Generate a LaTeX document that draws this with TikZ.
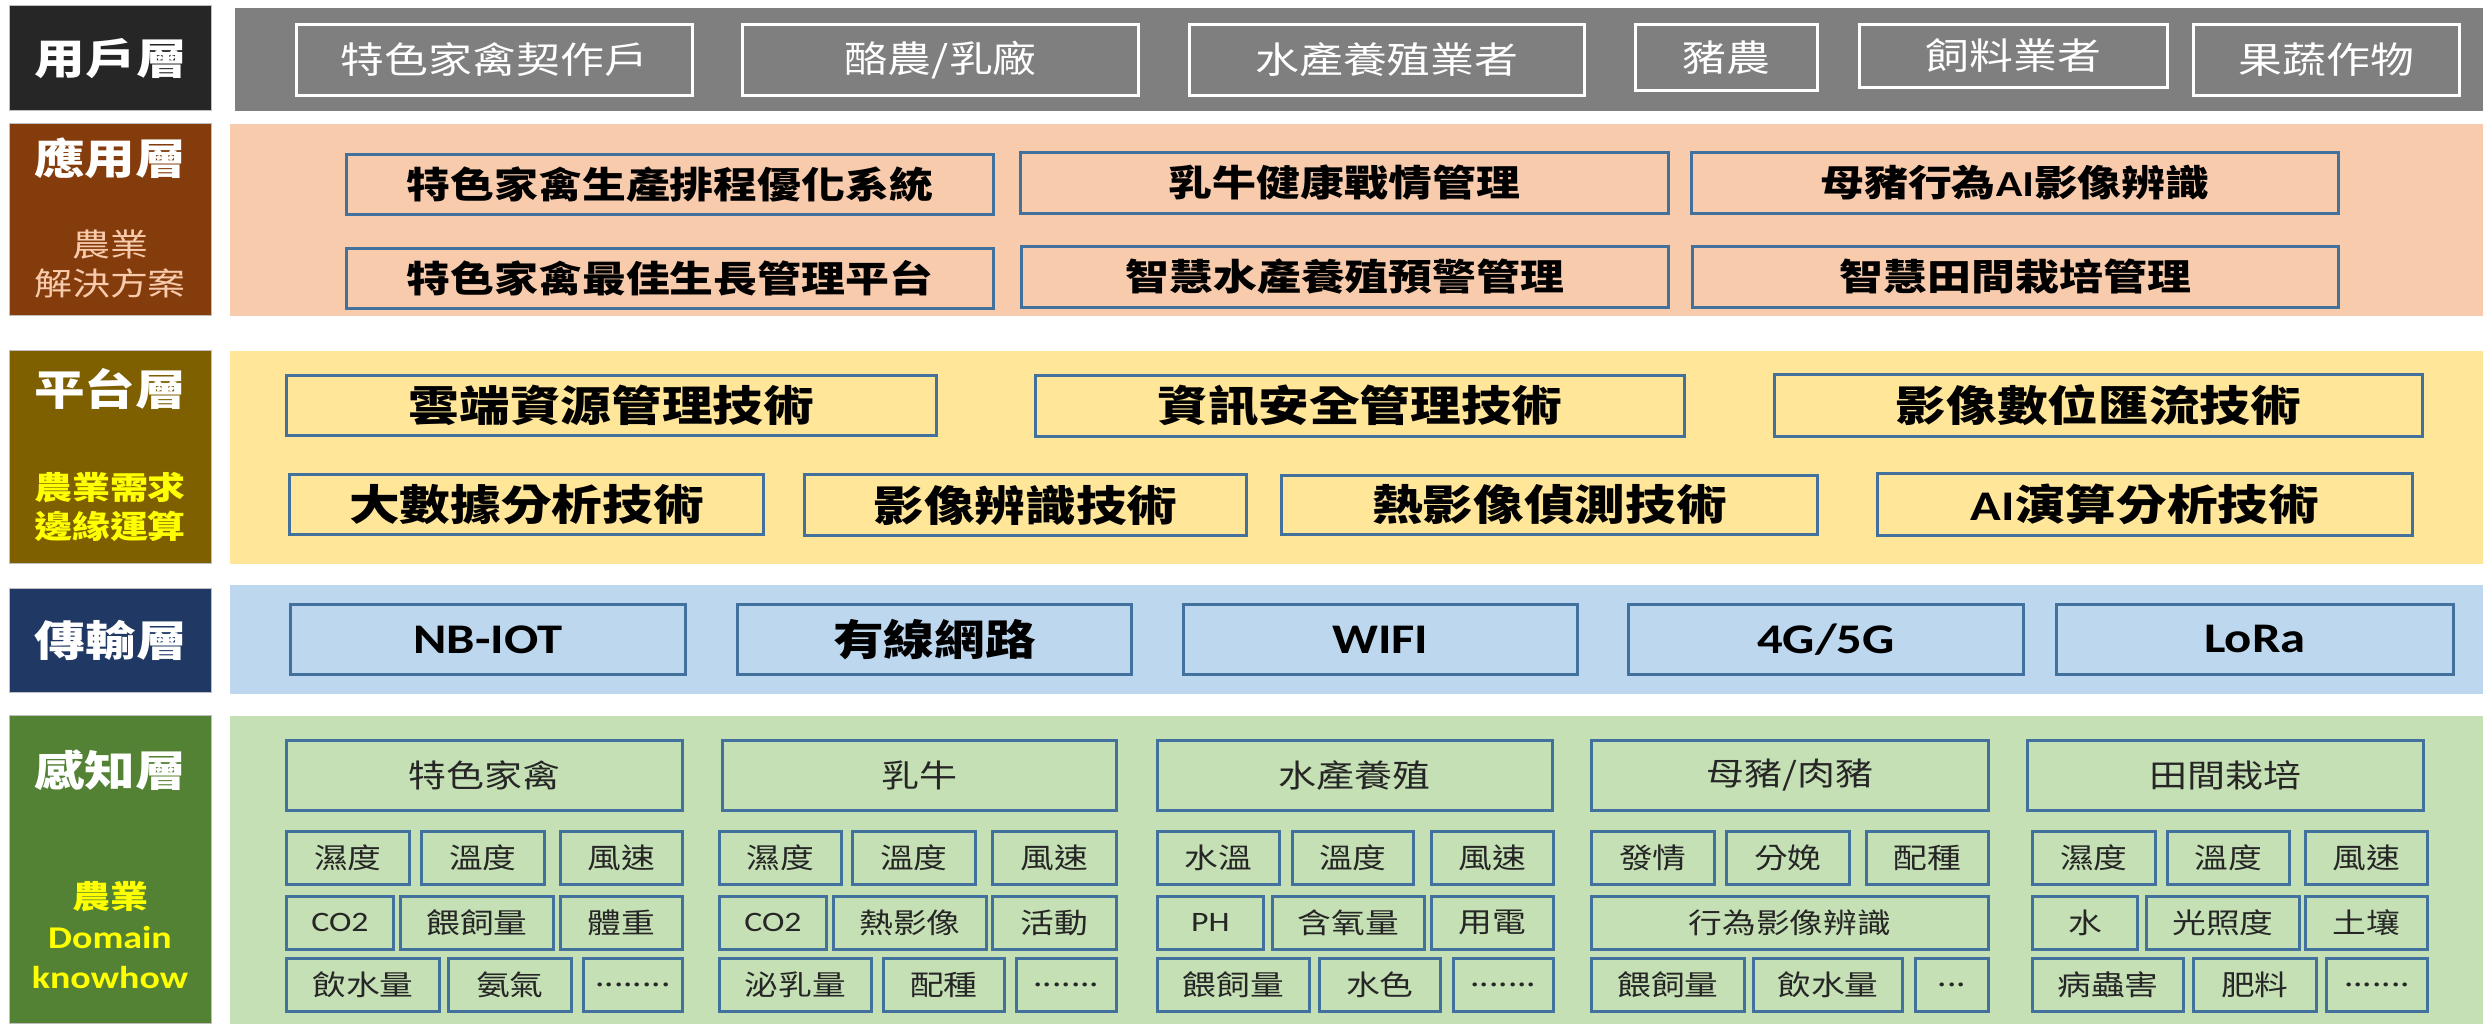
\documentclass[tikz,border=0pt]{standalone}
\usepackage{fontspec}
\setmainfont{Noto Sans CJK TC}[FakeStretch=1.2]
\newfontfamily\latin{Carlito}[FakeStretch=1.2]
\definecolor{userdark}{HTML}{262626}
\definecolor{usergray}{HTML}{7F7F7F}
\definecolor{appbrown}{HTML}{843C0C}
\definecolor{apppeach}{HTML}{F8CBAD}
\definecolor{platolive}{HTML}{7F6000}
\definecolor{platyellow}{HTML}{FFE699}
\definecolor{netnavy}{HTML}{203864}
\definecolor{netblue}{HTML}{BDD7EE}
\definecolor{sensegreen}{HTML}{548235}
\definecolor{senselight}{HTML}{C5E0B4}
\definecolor{boxblue}{HTML}{41719C}
\definecolor{subyellow}{HTML}{FFFF00}
\tikzset{
  cellsize/.style 2 args={minimum width=#1*0.01cm, minimum height=#2*0.01cm},
  labelbox/.style={draw=black!25, line width=0.4pt, anchor=north west, inner sep=0pt},
  labeltext/.style={text=white, font=\fontsize{12}{14}\selectfont\bfseries},
  subtext/.style={align=center, font=\fontsize{9}{11.3}\selectfont\bfseries},
  band/.style={anchor=north west, inner sep=0pt},
  userbox/.style={draw=white, line width=0.8pt, anchor=north west, inner sep=0pt, text=white, font=\fontsize{10.4}{12}\selectfont},
  appbox/.style={draw=boxblue, line width=0.8pt, anchor=north west, inner sep=0pt, font=\fontsize{10.4}{12}\selectfont\bfseries},
  techbox/.style={appbox, font=\fontsize{12}{14}\selectfont\bfseries},
  netbox/.style={techbox, fill=netblue},
  sensorhead/.style={appbox, text=black!85, font=\fontsize{9}{11}\selectfont},
  sensorbox/.style={appbox, text=black!85, font=\fontsize{8}{10}\selectfont}
}
\begin{document}
\begin{tikzpicture}[x=0.01cm, y=-0.01cm]
    \useasboundingbox (0,0) rectangle (2484,1023);

    % User layer
    \node[labelbox, fill=userdark, cellsize={202}{105}] (ulabel) at (9,5) {};
    \node[labeltext] (utitle) at (ulabel.center) {用戶層};
    \node[band, fill=usergray, cellsize={2248}{103}] (uband) at (234,7) {};
    \node[userbox, cellsize={396}{71}] (u1) at (295,23) {特色家禽契作戶};
    \node[userbox, cellsize={396}{71}] (u2) at (741,23) {酪農/乳廠};
    \node[userbox, cellsize={395}{71}] (u3) at (1188,23) {水產養殖業者};
    \node[userbox, cellsize={182}{66}] (u4) at (1634,23) {豬農};
    \node[userbox, cellsize={308}{63}] (u5) at (1858,23) {飼料業者};
    \node[userbox, cellsize={266}{71}] (u6) at (2192,23) {果蔬作物};

    % Application layer
    \node[labelbox, fill=appbrown, cellsize={202}{192}] (alabel) at (9,123) {};
    \node[labeltext] (atitle) at (110,158) {應用層};
    \node[subtext, text=apppeach, font=\fontsize{9}{11.3}\selectfont] (asub) at (110,264) {農業\\解決方案};
    \node[band, fill=apppeach, cellsize={2253}{192}] (aband) at (229,123) {};
    \node[appbox, cellsize={647}{60}] (a1) at (345,153) {特色家禽生產排程優化系統};
    \node[appbox, cellsize={648}{61}] (a2) at (1019,151) {乳牛健康戰情管理};
    \node[appbox, cellsize={647}{61}] (a3) at (1690,151) {母豬行為{\latin AI}影像辨識};
    \node[appbox, cellsize={647}{60}] (a4) at (345,247) {特色家禽最佳生長管理平台};
    \node[appbox, cellsize={647}{61}] (a5) at (1020,245) {智慧水產養殖預警管理};
    \node[appbox, cellsize={646}{61}] (a6) at (1691,245) {智慧田間栽培管理};

    % Platform layer
    \node[labelbox, fill=platolive, cellsize={202}{213}] (plabel) at (9,350) {};
    \node[labeltext] (ptitle) at (110,389) {平台層};
    \node[subtext, text=subyellow] (psub) at (110,507) {農業需求\\邊緣運算};
    \node[band, fill=platyellow, cellsize={2253}{213}] (pband) at (229,350) {};
    \node[techbox, cellsize={650}{60}] (p1) at (285,374) {雲端資源管理技術};
    \node[techbox, cellsize={649}{61}] (p2) at (1034,374) {資訊安全管理技術};
    \node[techbox, cellsize={648}{62}] (p3) at (1773,373) {影像數位匯流技術};
    \node[techbox, cellsize={474}{60}] (p4) at (288,473) {大數據分析技術};
    \node[techbox, cellsize={442}{61}] (p5) at (803,473) {影像辨識技術};
    \node[techbox, cellsize={536}{59}] (p6) at (1280,474) {熱影像偵測技術};
    \node[techbox, cellsize={535}{62}] (p7) at (1876,472) {{\latin AI}演算分析技術};

    % Transport layer
    \node[labelbox, fill=netnavy, cellsize={202}{104}] (tlabel) at (9,588) {};
    \node[labeltext] (ttitle) at (tlabel.center) {傳輸層};
    \node[band, fill=netblue, cellsize={2253}{109}] (tband) at (229,584) {};
    \node[netbox, cellsize={395}{70}] (t1) at (289,603) {\latin NB-IOT};
    \node[netbox, cellsize={394}{70}] (t2) at (736,603) {有線網路};
    \node[netbox, cellsize={394}{70}] (t3) at (1182,603) {\latin WIFI};
    \node[netbox, cellsize={395}{70}] (t4) at (1627,603) {\latin 4G/5G};
    \node[netbox, cellsize={397}{70}] (t5) at (2055,603) {\latin LoRa};

    % Sensing layer
    \node[labelbox, fill=sensegreen, cellsize={202}{308}] (slabel) at (9,715) {};
    \node[labeltext] (stitle) at (110,770) {感知層};
    \node[subtext, text=subyellow] (ssub) at (110,935) {農業\\{\latin Domain}\\{\latin knowhow}};
    \node[band, fill=senselight, cellsize={2253}{308}] (sband) at (229,715) {};
    \node[sensorhead, cellsize={396}{70}] (h1) at (285,739) {特色家禽};
    \node[sensorhead, cellsize={394}{70}] (h2) at (721,739) {乳牛};
    \node[sensorhead, cellsize={395}{70}] (h3) at (1156,739) {水產養殖};
    \node[sensorhead, cellsize={397}{70}] (h4) at (1590,739) {母豬/肉豬};
    \node[sensorhead, cellsize={396}{70}] (h5) at (2026,739) {田間栽培};

    % poultry
    \node[sensorbox, cellsize={123}{53}] (c11) at (285,830) {濕度};
    \node[sensorbox, cellsize={123}{53}] (c12) at (420,830) {溫度};
    \node[sensorbox, cellsize={122}{53}] (c13) at (559,830) {風速};
    \node[sensorbox, cellsize={107}{53}] (c14) at (285,895) {\latin CO2};
    \node[sensorbox, cellsize={153}{53}] (c15) at (399,895) {餵飼量};
    \node[sensorbox, cellsize={122}{53}] (c16) at (559,895) {體重};
    \node[sensorbox, cellsize={153}{53}] (c17) at (285,957) {飲水量};
    \node[sensorbox, cellsize={123}{53}] (c18) at (447,957) {氨氣};
    \node[sensorbox, cellsize={99}{53}] (c19) at (582,957) {........};

    % dairy
    \node[sensorbox, cellsize={122}{53}] (c21) at (718,830) {濕度};
    \node[sensorbox, cellsize={123}{53}] (c22) at (851,830) {溫度};
    \node[sensorbox, cellsize={124}{53}] (c23) at (991,830) {風速};
    \node[sensorbox, cellsize={107}{53}] (c24) at (718,895) {\latin CO2};
    \node[sensorbox, cellsize={153}{53}] (c25) at (832,895) {熱影像};
    \node[sensorbox, cellsize={124}{53}] (c26) at (991,895) {活動};
    \node[sensorbox, cellsize={152}{53}] (c27) at (718,957) {泌乳量};
    \node[sensorbox, cellsize={121}{53}] (c28) at (882,957) {配種};
    \node[sensorbox, cellsize={100}{53}] (c29) at (1015,957) {.......};

    % aquaculture
    \node[sensorbox, cellsize={122}{53}] (c31) at (1156,830) {水溫};
    \node[sensorbox, cellsize={121}{53}] (c32) at (1291,830) {溫度};
    \node[sensorbox, cellsize={122}{53}] (c33) at (1430,830) {風速};
    \node[sensorbox, cellsize={106}{53}] (c34) at (1156,895) {\latin PH};
    \node[sensorbox, cellsize={152}{53}] (c35) at (1271,895) {含氧量};
    \node[sensorbox, cellsize={122}{53}] (c36) at (1430,895) {用電};
    \node[sensorbox, cellsize={152}{53}] (c37) at (1156,957) {餵飼量};
    \node[sensorbox, cellsize={121}{53}] (c38) at (1318,957) {水色};
    \node[sensorbox, cellsize={100}{53}] (c39) at (1452,957) {.......};

    % pigs
    \node[sensorbox, cellsize={123}{53}] (c41) at (1590,830) {發情};
    \node[sensorbox, cellsize={123}{53}] (c42) at (1725,830) {分娩};
    \node[sensorbox, cellsize={122}{53}] (c43) at (1865,830) {配種};
    \node[sensorbox, cellsize={397}{53}] (c44) at (1590,895) {行為影像辨識};
    \node[sensorbox, cellsize={153}{53}] (c45) at (1590,957) {餵飼量};
    \node[sensorbox, cellsize={149}{53}] (c46) at (1752,957) {飲水量};
    \node[sensorbox, cellsize={73}{53}] (c47) at (1914,957) {...};

    % field crops
    \node[sensorbox, cellsize={123}{53}] (c51) at (2031,830) {濕度};
    \node[sensorbox, cellsize={122}{53}] (c52) at (2166,830) {溫度};
    \node[sensorbox, cellsize={122}{53}] (c53) at (2304,830) {風速};
    \node[sensorbox, cellsize={105}{53}] (c54) at (2031,895) {水};
    \node[sensorbox, cellsize={153}{53}] (c55) at (2145,895) {光照度};
    \node[sensorbox, cellsize={122}{53}] (c56) at (2304,895) {土壤};
    \node[sensorbox, cellsize={151}{53}] (c57) at (2031,957) {病蟲害};
    \node[sensorbox, cellsize={123}{53}] (c58) at (2192,957) {肥料};
    \node[sensorbox, cellsize={101}{53}] (c59) at (2325,957) {.......};
\end{tikzpicture}
\end{document}
